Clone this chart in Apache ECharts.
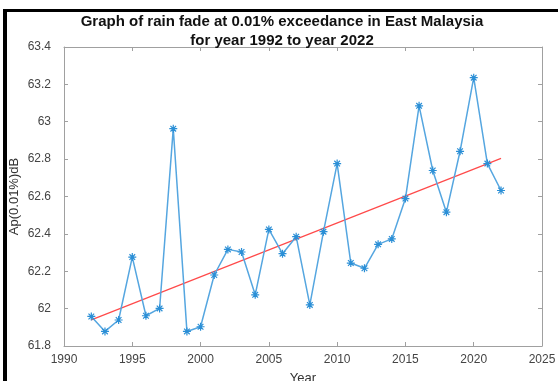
<!DOCTYPE html>
<html>
<head>
<meta charset="utf-8">
<script src="https://cdn.jsdelivr.net/npm/echarts@6/dist/echarts.min.js"></script>
<style>
  html, body { margin: 0; padding: 0; background: #fff; }
  #chart { width: 558px; height: 381px; }
</style>
</head>
<body>
<div id="chart"></div>
<script>
// Annual rain fade (dB) at 0.01% exceedance, East Malaysia
const years = [1992, 1993, 1994, 1995, 1996, 1997, 1998, 1999, 2000, 2001,
               2002, 2003, 2004, 2005, 2006, 2007, 2008, 2009, 2010, 2011,
               2012, 2013, 2014, 2015, 2016, 2017, 2018, 2019, 2020, 2021, 2022];
const rainFade = [61.958, 61.878, 61.939, 62.276, 61.962, 62.001, 62.963, 61.878, 61.903, 62.180,
                  62.317, 62.303, 62.074, 62.424, 62.294, 62.385, 62.020, 62.412, 62.776, 62.244,
                  62.216, 62.344, 62.373, 62.589, 63.085, 62.739, 62.516, 62.842, 63.236, 62.776, 62.632];
// Linear trend endpoints
const trendYears = [1992, 2022];
const trendValues = [61.94, 62.804];

const xTicks = { min: 1990, max: 2025, interval: 5 };
const yTicks = { min: 61.8, max: 63.4, interval: 0.2 };

const FONT = 'Liberation Sans, Arial, sans-serif';
const AXIS_GRAY = '#a0a0a0';

const asterisk = 'path://M0,-10L0,10M-10,0L10,0M-7.07,-7.07L7.07,7.07M-7.07,7.07L7.07,-7.07';

const chart = echarts.init(document.getElementById('chart'), null, { renderer: 'canvas' });

function xAxisDef(pos, showLabels) {
  return {
    type: 'value', position: pos,
    min: xTicks.min, max: xTicks.max, interval: xTicks.interval,
    axisLine: { show: true, onZero: false, lineStyle: { color: AXIS_GRAY, width: 1 } },
    axisTick: { show: true, inside: true, length: 4, lineStyle: { color: AXIS_GRAY } },
    axisLabel: { show: showLabels, color: '#444', fontSize: 12, fontFamily: FONT, margin: 8,
                 formatter: v => String(v) },
    splitLine: { show: false },
    name: showLabels ? 'Year' : '',
    nameLocation: 'middle', nameGap: 26, nameMoveOverlap: false,
    nameTextStyle: { color: '#333', fontSize: 13, fontFamily: FONT }
  };
}
function yAxisDef(pos, showLabels) {
  return {
    type: 'value', position: pos,
    min: yTicks.min, max: yTicks.max, interval: yTicks.interval,
    axisLine: { show: true, onZero: false, lineStyle: { color: AXIS_GRAY, width: 1 } },
    axisTick: { show: true, inside: true, length: 4, lineStyle: { color: AXIS_GRAY } },
    axisLabel: { show: showLabels, color: '#444', fontSize: 12, fontFamily: FONT, margin: 13 },
    splitLine: { show: false },
    name: showLabels ? 'Ap(0.01%)dB' : '',
    nameLocation: 'middle', nameGap: 43, nameMoveOverlap: false,
    nameTextStyle: { color: '#333', fontSize: 13, fontFamily: FONT }
  };
}

chart.setOption({
  animation: false,
  backgroundColor: '#ffffff',
  title: {
    text: 'Graph of rain fade at 0.01% exceedance in East Malaysia\nfor year 1992 to year 2022',
    left: 277, top: 7, textAlign: 'center',
    textStyle: { color: '#111', fontSize: 15, fontWeight: 'bold', fontFamily: FONT, lineHeight: 19 }
  },
  grid: { left: 64, right: 16, top: 47, bottom: 35, outerBoundsMode: 'none', containLabel: false },
  xAxis: [xAxisDef('bottom', true), xAxisDef('top', false)],
  yAxis: [yAxisDef('left', true), yAxisDef('right', false)],
  series: [
    {
      type: 'line',
      data: years.map((y, i) => [y, rainFade[i]]),
      lineStyle: { color: '#55a6e0', width: 1.5 },
      symbol: asterisk,
      symbolSize: 8,
      itemStyle: { color: 'rgba(0,0,0,0)', borderColor: '#2b8fd6', borderWidth: 1.2 },
      z: 3
    },
    {
      type: 'line',
      data: trendYears.map((y, i) => [y, trendValues[i]]),
      lineStyle: { color: '#ff4a4a', width: 1.2 },
      symbol: 'none',
      z: 2
    }
  ],
  graphic: [
    { type: 'rect', shape: { x: 3, y: 9, width: 555, height: 3 }, style: { fill: '#000' } },
    { type: 'rect', shape: { x: 3, y: 9, width: 4, height: 372 }, style: { fill: '#000' } }
  ]
});
</script>
</body>
</html>
